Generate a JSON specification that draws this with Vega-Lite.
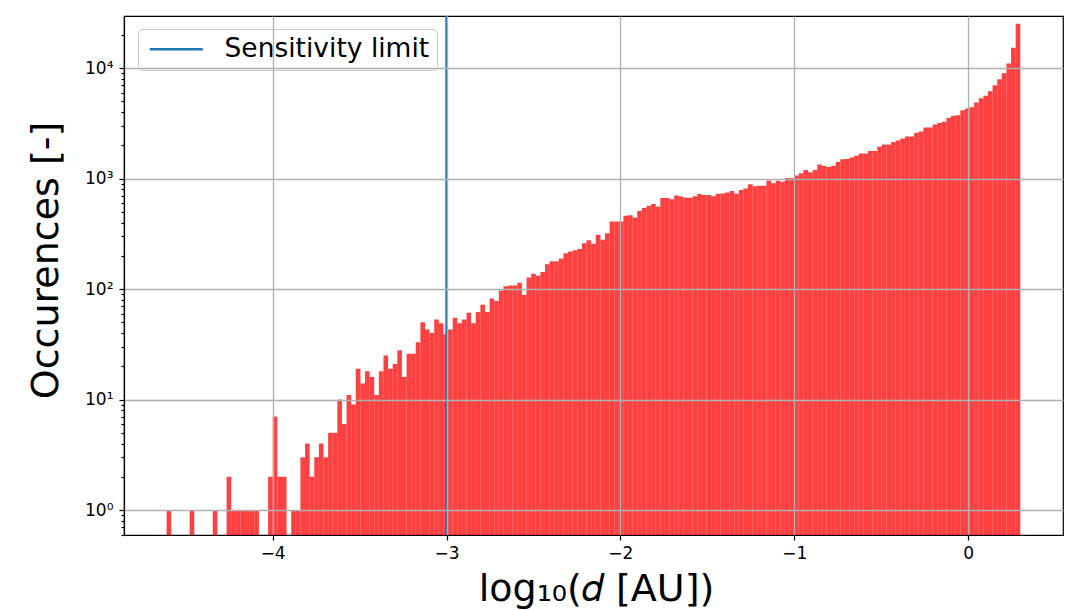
{
  "$schema": "https://vega.github.io/schema/vega-lite/v6.json",
  "width": 939,
  "height": 519,
  "autosize": {"type": "none"},
  "padding": {"left": 124, "top": 16, "right": 5, "bottom": 75},
  "background": "white",
  "config": {
    "font": "DejaVu Sans",
    "view": {"stroke": "black", "strokeWidth": 1.2}
  },
  "layer": [
    {
      "data": {
        "values": [
          {"x0": -4.61, "x1": -4.5835, "count": 1},
          {"x0": -4.4773, "x1": -4.4508, "count": 1},
          {"x0": -4.3446, "x1": -4.3181, "count": 1},
          {"x0": -4.265, "x1": -4.2384, "count": 2},
          {"x0": -4.2384, "x1": -4.2119, "count": 1},
          {"x0": -4.2119, "x1": -4.1854, "count": 1},
          {"x0": -4.1854, "x1": -4.1588, "count": 1},
          {"x0": -4.1588, "x1": -4.1323, "count": 1},
          {"x0": -4.1323, "x1": -4.1057, "count": 1},
          {"x0": -4.1057, "x1": -4.0792, "count": 1},
          {"x0": -4.0261, "x1": -3.9996, "count": 2},
          {"x0": -3.9996, "x1": -3.973, "count": 7},
          {"x0": -3.973, "x1": -3.9465, "count": 2},
          {"x0": -3.9465, "x1": -3.92, "count": 2},
          {"x0": -3.8934, "x1": -3.8669, "count": 1},
          {"x0": -3.8669, "x1": -3.8403, "count": 1},
          {"x0": -3.8403, "x1": -3.8138, "count": 3},
          {"x0": -3.8138, "x1": -3.7873, "count": 4},
          {"x0": -3.7873, "x1": -3.7607, "count": 2},
          {"x0": -3.7607, "x1": -3.7342, "count": 3},
          {"x0": -3.7342, "x1": -3.7076, "count": 4},
          {"x0": -3.7076, "x1": -3.6811, "count": 3},
          {"x0": -3.6811, "x1": -3.6546, "count": 5},
          {"x0": -3.6546, "x1": -3.628, "count": 5},
          {"x0": -3.628, "x1": -3.6015, "count": 10},
          {"x0": -3.6015, "x1": -3.5749, "count": 6},
          {"x0": -3.5749, "x1": -3.5484, "count": 11},
          {"x0": -3.5484, "x1": -3.5219, "count": 9},
          {"x0": -3.5219, "x1": -3.4953, "count": 19},
          {"x0": -3.4953, "x1": -3.4688, "count": 14},
          {"x0": -3.4688, "x1": -3.4422, "count": 18},
          {"x0": -3.4422, "x1": -3.4157, "count": 16},
          {"x0": -3.4157, "x1": -3.3892, "count": 11},
          {"x0": -3.3892, "x1": -3.3626, "count": 18},
          {"x0": -3.3626, "x1": -3.3361, "count": 25},
          {"x0": -3.3361, "x1": -3.3095, "count": 19},
          {"x0": -3.3095, "x1": -3.283, "count": 21},
          {"x0": -3.283, "x1": -3.2565, "count": 28},
          {"x0": -3.2565, "x1": -3.2299, "count": 16},
          {"x0": -3.2299, "x1": -3.2034, "count": 26},
          {"x0": -3.2034, "x1": -3.1768, "count": 26},
          {"x0": -3.1768, "x1": -3.1503, "count": 33},
          {"x0": -3.1503, "x1": -3.1238, "count": 50},
          {"x0": -3.1238, "x1": -3.0972, "count": 43},
          {"x0": -3.0972, "x1": -3.0707, "count": 40},
          {"x0": -3.0707, "x1": -3.0441, "count": 53},
          {"x0": -3.0441, "x1": -3.0176, "count": 49},
          {"x0": -3.0176, "x1": -2.9911, "count": 39},
          {"x0": -2.9911, "x1": -2.9645, "count": 43},
          {"x0": -2.9645, "x1": -2.938, "count": 55},
          {"x0": -2.938, "x1": -2.9114, "count": 49},
          {"x0": -2.9114, "x1": -2.8849, "count": 53},
          {"x0": -2.8849, "x1": -2.8584, "count": 61},
          {"x0": -2.8584, "x1": -2.8318, "count": 49},
          {"x0": -2.8318, "x1": -2.8053, "count": 62},
          {"x0": -2.8053, "x1": -2.7787, "count": 72},
          {"x0": -2.7787, "x1": -2.7522, "count": 62},
          {"x0": -2.7522, "x1": -2.7257, "count": 82},
          {"x0": -2.7257, "x1": -2.6991, "count": 78},
          {"x0": -2.6991, "x1": -2.6726, "count": 97},
          {"x0": -2.6726, "x1": -2.646, "count": 106},
          {"x0": -2.646, "x1": -2.6195, "count": 108},
          {"x0": -2.6195, "x1": -2.593, "count": 108},
          {"x0": -2.593, "x1": -2.5664, "count": 114},
          {"x0": -2.5664, "x1": -2.5399, "count": 89},
          {"x0": -2.5399, "x1": -2.5133, "count": 127},
          {"x0": -2.5133, "x1": -2.4868, "count": 138},
          {"x0": -2.4868, "x1": -2.4603, "count": 132},
          {"x0": -2.4603, "x1": -2.4337, "count": 143},
          {"x0": -2.4337, "x1": -2.4072, "count": 168},
          {"x0": -2.4072, "x1": -2.3806, "count": 179},
          {"x0": -2.3806, "x1": -2.3541, "count": 179},
          {"x0": -2.3541, "x1": -2.3276, "count": 189},
          {"x0": -2.3276, "x1": -2.301, "count": 211},
          {"x0": -2.301, "x1": -2.2745, "count": 219},
          {"x0": -2.2745, "x1": -2.2479, "count": 225},
          {"x0": -2.2479, "x1": -2.2214, "count": 231},
          {"x0": -2.2214, "x1": -2.1949, "count": 260},
          {"x0": -2.1949, "x1": -2.1683, "count": 277},
          {"x0": -2.1683, "x1": -2.1418, "count": 257},
          {"x0": -2.1418, "x1": -2.1152, "count": 311},
          {"x0": -2.1152, "x1": -2.0887, "count": 279},
          {"x0": -2.0887, "x1": -2.0622, "count": 320},
          {"x0": -2.0622, "x1": -2.0356, "count": 408},
          {"x0": -2.0356, "x1": -2.0091, "count": 408},
          {"x0": -2.0091, "x1": -1.9825, "count": 410},
          {"x0": -1.9825, "x1": -1.956, "count": 460},
          {"x0": -1.956, "x1": -1.9295, "count": 465},
          {"x0": -1.9295, "x1": -1.9029, "count": 445},
          {"x0": -1.9029, "x1": -1.8764, "count": 508},
          {"x0": -1.8764, "x1": -1.8498, "count": 542},
          {"x0": -1.8498, "x1": -1.8233, "count": 569},
          {"x0": -1.8233, "x1": -1.7968, "count": 588},
          {"x0": -1.7968, "x1": -1.7702, "count": 555},
          {"x0": -1.7702, "x1": -1.7437, "count": 668},
          {"x0": -1.7437, "x1": -1.7171, "count": 668},
          {"x0": -1.7171, "x1": -1.6906, "count": 649},
          {"x0": -1.6906, "x1": -1.6641, "count": 705},
          {"x0": -1.6641, "x1": -1.6375, "count": 687},
          {"x0": -1.6375, "x1": -1.611, "count": 672},
          {"x0": -1.611, "x1": -1.5844, "count": 672},
          {"x0": -1.5844, "x1": -1.5579, "count": 692},
          {"x0": -1.5579, "x1": -1.5314, "count": 726},
          {"x0": -1.5314, "x1": -1.5048, "count": 711},
          {"x0": -1.5048, "x1": -1.4783, "count": 711},
          {"x0": -1.4783, "x1": -1.4517, "count": 692},
          {"x0": -1.4517, "x1": -1.4252, "count": 731},
          {"x0": -1.4252, "x1": -1.3987, "count": 733},
          {"x0": -1.3987, "x1": -1.3721, "count": 748},
          {"x0": -1.3721, "x1": -1.3456, "count": 773},
          {"x0": -1.3456, "x1": -1.319, "count": 730},
          {"x0": -1.319, "x1": -1.2925, "count": 790},
          {"x0": -1.2925, "x1": -1.266, "count": 813},
          {"x0": -1.266, "x1": -1.2394, "count": 890},
          {"x0": -1.2394, "x1": -1.2129, "count": 851},
          {"x0": -1.2129, "x1": -1.1863, "count": 862},
          {"x0": -1.1863, "x1": -1.1598, "count": 862},
          {"x0": -1.1598, "x1": -1.1333, "count": 960},
          {"x0": -1.1333, "x1": -1.1067, "count": 909},
          {"x0": -1.1067, "x1": -1.0802, "count": 957},
          {"x0": -1.0802, "x1": -1.0536, "count": 938},
          {"x0": -1.0536, "x1": -1.0271, "count": 1015},
          {"x0": -1.0271, "x1": -1.0006, "count": 1012},
          {"x0": -1.0006, "x1": -0.974, "count": 1066},
          {"x0": -0.974, "x1": -0.9475, "count": 1118},
          {"x0": -0.9475, "x1": -0.9209, "count": 1195},
          {"x0": -0.9209, "x1": -0.8944, "count": 1142},
          {"x0": -0.8944, "x1": -0.8679, "count": 1195},
          {"x0": -0.8679, "x1": -0.8413, "count": 1345},
          {"x0": -0.8413, "x1": -0.8148, "count": 1299},
          {"x0": -0.8148, "x1": -0.7882, "count": 1277},
          {"x0": -0.7882, "x1": -0.7617, "count": 1309},
          {"x0": -0.7617, "x1": -0.7352, "count": 1413},
          {"x0": -0.7352, "x1": -0.7086, "count": 1498},
          {"x0": -0.7086, "x1": -0.6821, "count": 1508},
          {"x0": -0.6821, "x1": -0.6555, "count": 1550},
          {"x0": -0.6555, "x1": -0.629, "count": 1610},
          {"x0": -0.629, "x1": -0.6025, "count": 1690},
          {"x0": -0.6025, "x1": -0.5759, "count": 1690},
          {"x0": -0.5759, "x1": -0.5494, "count": 1775},
          {"x0": -0.5494, "x1": -0.5228, "count": 1775},
          {"x0": -0.5228, "x1": -0.4963, "count": 1941},
          {"x0": -0.4963, "x1": -0.4698, "count": 2037},
          {"x0": -0.4698, "x1": -0.4432, "count": 2037},
          {"x0": -0.4432, "x1": -0.4167, "count": 2140},
          {"x0": -0.4167, "x1": -0.3901, "count": 2213},
          {"x0": -0.3901, "x1": -0.3636, "count": 2307},
          {"x0": -0.3636, "x1": -0.3371, "count": 2405},
          {"x0": -0.3371, "x1": -0.3105, "count": 2405},
          {"x0": -0.3105, "x1": -0.284, "count": 2600},
          {"x0": -0.284, "x1": -0.2574, "count": 2670},
          {"x0": -0.2574, "x1": -0.2309, "count": 2900},
          {"x0": -0.2309, "x1": -0.2044, "count": 2900},
          {"x0": -0.2044, "x1": -0.1778, "count": 3090},
          {"x0": -0.1778, "x1": -0.1513, "count": 3180},
          {"x0": -0.1513, "x1": -0.1247, "count": 3265},
          {"x0": -0.1247, "x1": -0.0982, "count": 3550},
          {"x0": -0.0982, "x1": -0.0717, "count": 3700},
          {"x0": -0.0717, "x1": -0.0451, "count": 3750},
          {"x0": -0.0451, "x1": -0.0186, "count": 4160},
          {"x0": -0.0186, "x1": 0.008, "count": 4310},
          {"x0": 0.008, "x1": 0.0345, "count": 4430},
          {"x0": 0.0345, "x1": 0.061, "count": 4880},
          {"x0": 0.061, "x1": 0.0876, "count": 5350},
          {"x0": 0.0876, "x1": 0.1141, "count": 5610},
          {"x0": 0.1141, "x1": 0.1407, "count": 6180},
          {"x0": 0.1407, "x1": 0.1672, "count": 7010},
          {"x0": 0.1672, "x1": 0.1937, "count": 7940},
          {"x0": 0.1937, "x1": 0.2203, "count": 9000},
          {"x0": 0.2203, "x1": 0.2468, "count": 10990},
          {"x0": 0.2468, "x1": 0.2734, "count": 15300},
          {"x0": 0.2734, "x1": 0.2999, "count": 25200}
        ]
      },
      "mark": {"type": "bar", "color": "red", "opacity": 0.75},
      "encoding": {
        "x": {
          "field": "x0",
          "type": "quantitative",
          "scale": {"domain": [-4.855, 0.5456], "nice": false, "zero": false},
          "axis": {
            "values": [-4, -3, -2, -1, 0],
            "format": "d",
            "grid": true,
            "gridColor": "#b0b0b0",
            "gridWidth": 1.3,
            "domainColor": "black",
            "domainWidth": 1.2,
            "tickColor": "black",
            "tickWidth": 1.2,
            "tickSize": 5,
            "labelFontSize": 17,
            "labelColor": "black",
            "labelPadding": 5,
            "zindex": 1,
            "title": "log₁₀(𝑑 [AU])",
            "titleFontSize": 38,
            "titleFontWeight": "normal",
            "titleColor": "black",
            "titleX": 472,
            "titleY": 65,
            "titleBaseline": "alphabetic",
            "titleAlign": "center"
          }
        },
        "x2": {"field": "x1"},
        "y": {
          "field": "count",
          "type": "quantitative",
          "scale": {"type": "log", "domain": [0.594, 29650], "nice": false},
          "axis": {
            "values": [0.6, 0.7, 0.8, 0.9, 1, 2, 3, 4, 5, 6, 7, 8, 9, 10, 20, 30, 40, 50, 60, 70, 80, 90, 100, 200, 300, 400, 500, 600, 700, 800, 900, 1000, 2000, 3000, 4000, 5000, 6000, 7000, 8000, 9000, 10000, 20000],
            "labelExpr": "datum.value == 1 ? '10⁰' : datum.value == 10 ? '10¹' : datum.value == 100 ? '10²' : datum.value == 1000 ? '10³' : datum.value == 10000 ? '10⁴' : ''",
            "labelOverlap": false,
            "labelFontSize": 17,
            "labelColor": "black",
            "labelPadding": 6,
            "grid": true,
            "gridColor": "#b0b0b0",
            "gridWidth": 1.3,
            "gridOpacity": {"condition": {"test": "indexof([1, 10, 100, 1000, 10000], datum.value) >= 0", "value": 1}, "value": 0},
            "tickSize": {"condition": {"test": "indexof([1, 10, 100, 1000, 10000], datum.value) >= 0", "value": 5}, "value": 3},
            "tickColor": "black",
            "tickWidth": 1.2,
            "domainColor": "black",
            "domainWidth": 1.2,
            "zindex": 1,
            "title": "Occurences [-]",
            "titleFontSize": 38,
            "titleFontWeight": "normal",
            "titleColor": "black",
            "titleX": -67,
            "titleY": 244,
            "titleBaseline": "alphabetic",
            "titleAlign": "center"
          }
        },
        "y2": {"datum": 0.594}
      }
    },
    {
      "data": {"values": [{"limit": -3, "label": "Sensitivity limit"}]},
      "mark": {"type": "rule", "strokeWidth": 2.5},
      "encoding": {
        "x": {"field": "limit", "type": "quantitative"},
        "color": {
          "field": "label",
          "type": "nominal",
          "scale": {"range": ["#1f77b4"]},
          "legend": {
            "title": null,
            "orient": "none",
            "legendX": 14,
            "legendY": 13,
            "symbolType": "M-2.5,0H2.5",
            "symbolSize": 450,
            "symbolStrokeWidth": 2.5,
            "symbolOffset": 18,
            "labelFontSize": 26.5,
            "labelLimit": 400,
            "labelColor": "black",
            "labelOffset": 35,
            "padding": 7,
            "fillColor": "rgba(255,255,255,0.8)",
            "strokeColor": "#cccccc",
            "cornerRadius": 4
          }
        }
      }
    }
  ]
}
